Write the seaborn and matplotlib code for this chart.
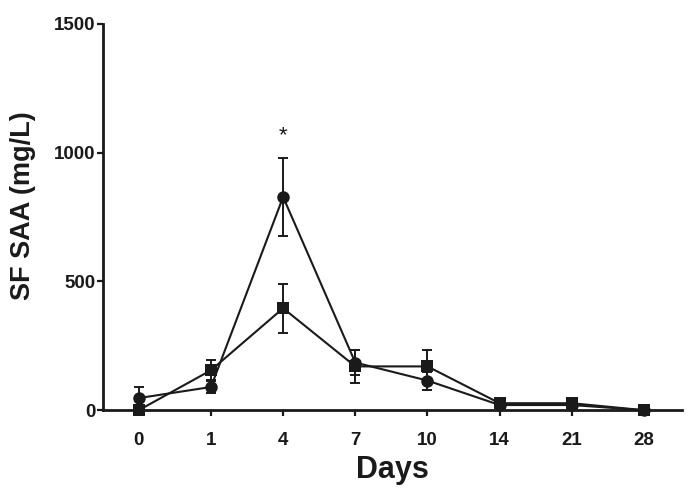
import matplotlib
matplotlib.use("Agg")
import matplotlib.pyplot as plt
import numpy as np
import pandas as pd
import seaborn as sns

# ─── Data ─────────────────────────────────────────────────────────
days = ["0", "1", "4", "7", "10", "14", "21", "28"]
circle_mean = [47, 90, 828, 185, 115, 20, 20, 0]
circle_err = [43, 25, 150, 50, 35, 8, 8, 0]
square_mean = [0, 155, 396, 170, 170, 27, 27, 0]
square_err = [0, 38, 95, 65, 65, 8, 22, 0]

pos = np.arange(len(days))
df = pd.DataFrame({
    "pos": np.concatenate([pos, pos]),
    "saa": circle_mean + square_mean,
    "group": ["circle"] * len(days) + ["square"] * len(days),
})

sns.set_style("ticks")
plt.rcParams["font.family"] = ["Liberation Sans", "DejaVu Sans"]

fig = plt.figure(figsize=(6.94, 4.99), dpi=100)
ax = fig.add_axes([0.148, 0.178, 0.835, 0.774])

# error bars first, so markers sit on top
for mean, err in [(circle_mean, circle_err), (square_mean, square_err)]:
    ax.errorbar(pos, mean, yerr=err, fmt="none", ecolor="#1a1a1a",
                elinewidth=1.4, capsize=3.5, capthick=1.4, zorder=2)

sns.lineplot(data=df, x="pos", y="saa", style="group",
             markers={"circle": "o", "square": "s"},
             dashes=False, color="#1a1a1a", linewidth=1.5,
             markersize=9, markeredgewidth=0, legend=False,
             ax=ax, zorder=3)
for ln in ax.lines:
    ln.set_clip_on(False)

ax.text(pos[2], 1065, "*", ha="center", va="center", fontsize=16, color="#1a1a1a")

ax.set_xlim(-0.5, 7.53)
ax.set_ylim(0, 1500)
ax.set_xticks(pos)
ax.set_xticklabels(days)
ax.set_yticks([0, 500, 1000, 1500])
ax.tick_params(axis="both", labelsize=13.5, width=1.6, length=4, color="#1a1a1a",
               labelcolor="#1a1a1a")
for lab in ax.get_xticklabels() + ax.get_yticklabels():
    lab.set_fontweight("bold")
ax.tick_params(axis="y", pad=1)
ax.tick_params(axis="x", pad=12)

ax.set_xlabel("Days", fontsize=22, fontweight="bold", color="#1a1a1a", labelpad=4)
ax.set_ylabel("SF SAA (mg/L)", fontsize=19.5, fontweight="bold", color="#1a1a1a", labelpad=12)
ax.yaxis.set_label_coords(-0.115, 0.53)

sns.despine(ax=ax)
for s in ["left", "bottom"]:
    ax.spines[s].set_linewidth(2)
    ax.spines[s].set_color("#1a1a1a")

fig.savefig("out.png", dpi=100)
